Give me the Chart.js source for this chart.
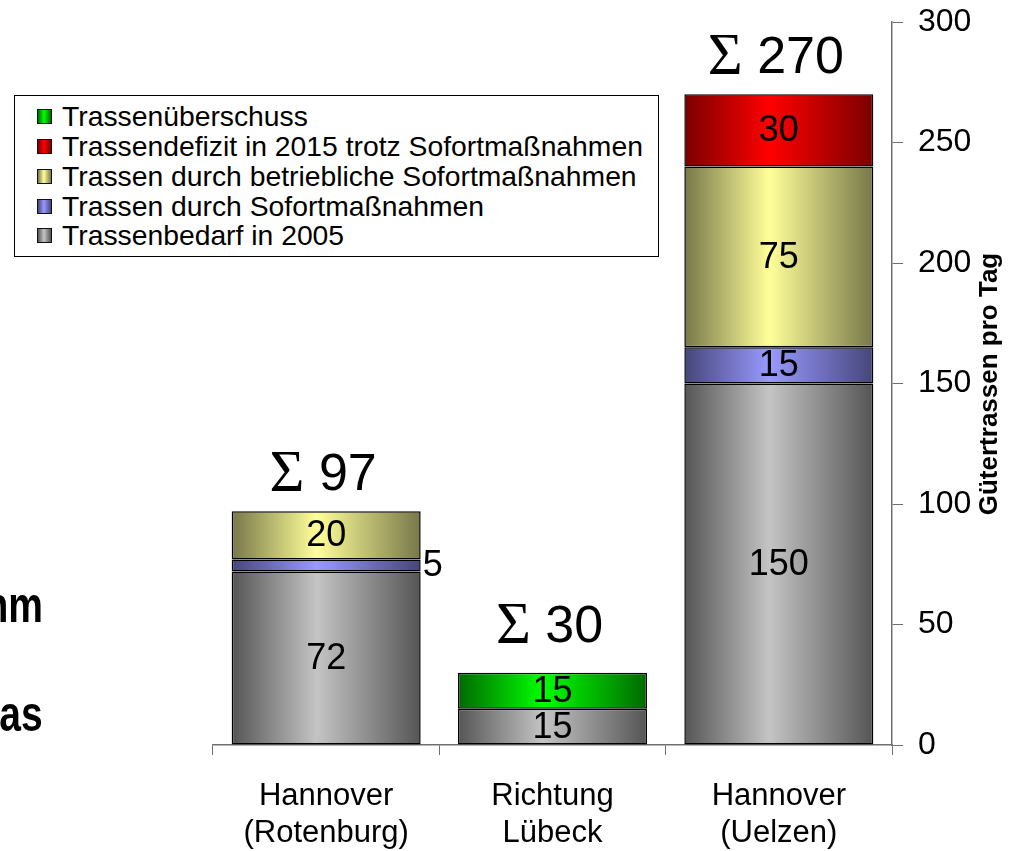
<!DOCTYPE html>
<html>
<head>
<meta charset="utf-8">
<title>Gütertrassen pro Tag</title>
<script src="https://cdn.jsdelivr.net/npm/chart.js@4.4.1/dist/chart.umd.min.js"></script>
<style>
  html, body { margin: 0; padding: 0; background: #fff; }
  #wrap {
    position: relative; width: 1019px; height: 851px; overflow: hidden;
    font-family: "Liberation Sans", Arial, sans-serif;
  }
  #chart { position: absolute; left: 0; top: 0; }
  .cut {
    position: absolute; font-weight: bold; font-size: 50px; line-height: 1;
    transform: scaleX(0.78); transform-origin: right bottom; white-space: nowrap;
  }
  #legend {
    position: absolute; left: 14px; top: 95px; width: 645px; height: 162px;
    border: 1px solid #000; background: #fff; box-sizing: border-box;
    padding: 6px 0 0 22px;
  }
  .item { display: flex; align-items: center; height: 29.75px; font-size: 28.3px; white-space: nowrap; }
  .box { width: 13px; height: 13px; border: 1.5px solid #111; margin-right: 10px; flex: none; }
</style>
</head>
<body>
<div id="wrap">
  <canvas id="chart" width="1019" height="851"></canvas>
  <div class="cut" style="right: 976px; top: 580px;">nm</div>
  <div class="cut" style="right: 976px; top: 689px;">as</div>
  <div id="legend"></div>
</div>
<script>
const categories = [["Hannover", "(Rotenburg)"], ["Richtung", "Lübeck"], ["Hannover", "(Uelzen)"]];

// stacked from bottom to top
const bedarf2005 = [72, 15, 150];
const sofortmassnahmen = [5, 0, 15];
const betrieblich = [20, 0, 75];
const defizit2015 = [0, 0, 30];
const ueberschuss = [0, 15, 0];
const totals = [97, 30, 270];

const yMin = 0;
const yMax = 300;
const yStep = 50;

const BAR_PCT = 0.835;
const FONT = "'Liberation Sans', Arial, sans-serif";
const sumLift = [40, 50, 40];

const series = [
  { label: "Trassenbedarf in 2005", data: bedarf2005, dark: "#555555", light: "#c4c4c4" },
  { label: "Trassen durch Sofortmaßnahmen", data: sofortmassnahmen, dark: "#46467a", light: "#9999ff" },
  { label: "Trassen durch betriebliche Sofortmaßnahmen", data: betrieblich, dark: "#77774a", light: "#ffff99" },
  { label: "Trassendefizit in 2015 trotz Sofortmaßnahmen", data: defizit2015, dark: "#7a0000", light: "#ff0000" },
  { label: "Trassenüberschuss", data: ueberschuss, dark: "#006a00", light: "#00ff00" }
];

function barGradient(dark, light) {
  return function (context) {
    const chart = context.chart;
    const xScale = chart.scales.x;
    if (!chart.chartArea || !xScale || context.dataIndex === undefined) return light;
    const cx = xScale.getPixelForValue(context.dataIndex);
    const half = (xScale.width / categories.length) * BAR_PCT / 2;
    const g = chart.ctx.createLinearGradient(cx - half, 0, cx + half, 0);
    g.addColorStop(0, dark);
    g.addColorStop(0.45, light);
    g.addColorStop(1, dark);
    return g;
  };
}

// legend (top entry = top of the stack)
const legendEl = document.getElementById("legend");
series.slice().reverse().forEach((s) => {
  const row = document.createElement("div");
  row.className = "item";
  const box = document.createElement("span");
  box.className = "box";
  box.style.background = `linear-gradient(to right, ${s.dark}, ${s.light} 45%, ${s.dark})`;
  row.appendChild(box);
  row.appendChild(document.createTextNode(s.label));
  legendEl.appendChild(row);
});

const labelPlugin = {
  id: "segmentLabels",
  afterDatasetsDraw(chart) {
    const ctx = chart.ctx;
    ctx.save();
    ctx.fillStyle = "#000";
    ctx.textBaseline = "middle";
    ctx.font = "36px " + FONT;
    chart.data.datasets.forEach((ds, i) => {
      const meta = chart.getDatasetMeta(i);
      meta.data.forEach((bar, j) => {
        const v = ds.data[j];
        if (!v) return;
        const h = Math.abs(bar.base - bar.y);
        const cy = (bar.y + bar.base) / 2 + 1;
        if (h < 30) {
          ctx.textAlign = "left";
          ctx.fillText(String(v), bar.x + bar.width / 2 + 2, cy);
        } else {
          ctx.textAlign = "center";
          ctx.fillText(String(v), bar.x, cy);
        }
      });
    });

    // sums above the stacks
    const xs = chart.scales.x;
    const ys = chart.scales.y;
    totals.forEach((t, j) => {
      const top = ys.getPixelForValue(t);
      const cy = top - sumLift[j];
      const num = String(t);
      ctx.font = "60px 'Liberation Serif', 'Times New Roman', serif";
      const wSig = ctx.measureText("Σ").width;
      ctx.font = "52px " + FONT;
      const wNum = ctx.measureText(" " + num).width;
      const left = xs.getPixelForValue(j) - (wSig + wNum) / 2 - 3;
      ctx.textAlign = "left";
      ctx.textBaseline = "alphabetic";
      ctx.font = "60px 'Liberation Serif', 'Times New Roman', serif";
      ctx.fillText("Σ", left, cy + 20);
      ctx.font = "52px " + FONT;
      ctx.fillText(" " + num, left + wSig, cy + 19);
    });

    // axis title, reading bottom to top
    ctx.translate(997, 384);
    ctx.rotate(-Math.PI / 2);
    ctx.font = "bold 26px " + FONT;
    ctx.textAlign = "center";
    ctx.fillText("Gütertrassen pro Tag", 0, 0);
    ctx.restore();
  }
};

new Chart(document.getElementById("chart"), {
  type: "bar",
  data: {
    labels: categories,
    datasets: series.map((s) => ({
      label: s.label,
      data: s.data.map((v) => (v ? v : null)),
      backgroundColor: barGradient(s.dark, s.light),
      borderColor: "#000",
      borderWidth: 1.5,
      borderSkipped: false,
      barPercentage: BAR_PCT,
      categoryPercentage: 1
    }))
  },
  options: {
    responsive: false,
    animation: false,
    devicePixelRatio: 1,
    layout: { padding: { left: 213, top: 22, right: 0, bottom: 0 } },
    plugins: {
      legend: { display: false },
      tooltip: { enabled: false }
    },
    scales: {
      x: {
        stacked: true,
        offset: true,
        grid: { display: true, drawOnChartArea: false, tickLength: 10, color: "#707070", offset: true },
        border: { display: true, color: "#707070", width: 1.5 },
        ticks: {
          color: "#000",
          font: { family: FONT, size: 31, lineHeight: 1.2 },
          padding: 23,
          maxRotation: 0,
          autoSkip: false
        },
        afterFit(scale) {
          scale.height = 106;
          scale.paddingLeft = 0;
          scale.paddingRight = 0;
        }
      },
      y: {
        stacked: true,
        position: "right",
        min: yMin,
        max: yMax,
        grid: { drawOnChartArea: false, tickLength: 11, color: "#707070" },
        border: { display: true, color: "#707070", width: 1.5 },
        ticks: {
          stepSize: yStep,
          color: "#000",
          font: { family: FONT, size: 32 },
          padding: 15
        },
        afterFit(scale) {
          scale.width = 127;
          scale.paddingTop = 0;
          scale.paddingBottom = 0;
        }
      }
    }
  },
  plugins: [labelPlugin]
});
</script>
</body>
</html>
